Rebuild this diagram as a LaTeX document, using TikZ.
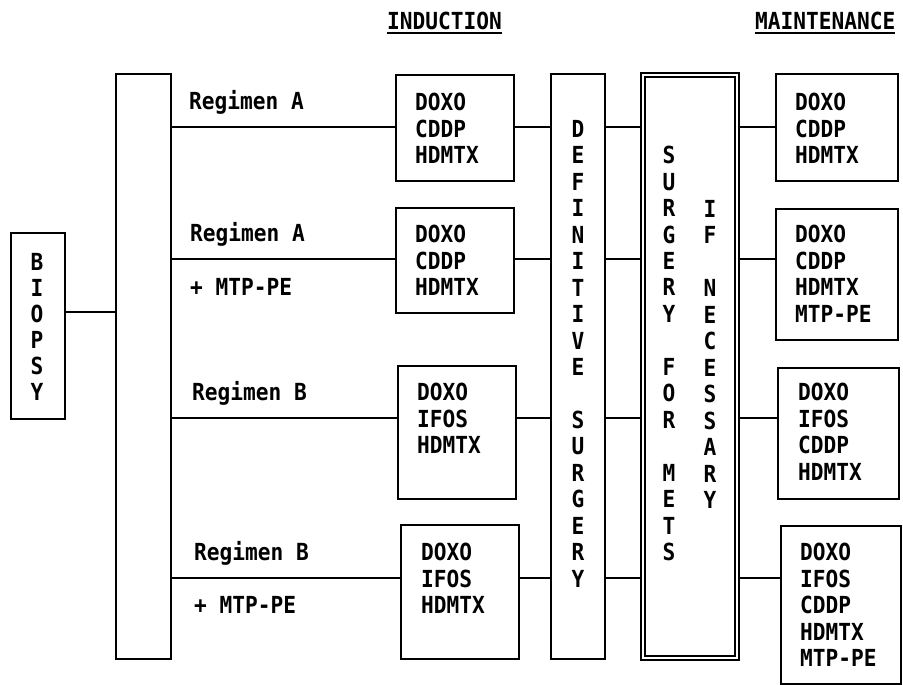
\documentclass[tikz,border=0pt]{standalone}
\usepackage{fontspec}
\setmainfont{DejaVu Sans Mono}[FakeStretch=0.9]
\begin{document}
\begin{tikzpicture}[x=1pt,y=-1pt,
  box/.style={draw, line width=1.6pt, inner sep=0pt, anchor=north west},
  txt/.style={font=\bfseries\fontsize{23.5}{26.5}\selectfont, inner sep=0pt, align=left, anchor=north west},
  vtxt/.style={font=\bfseries\fontsize{23.5}{26.47}\selectfont, inner sep=0pt, align=center, anchor=north},
  lab/.style={font=\bfseries\fontsize{23.5}{26.5}\selectfont, inner sep=0pt, anchor=base west},
  conn/.style={line width=1.6pt}]
\useasboundingbox (0,0) rectangle (903,685);

% titles
\node[lab] (indt) at (387,30) {INDUCTION};
\node[lab] (maint) at (755,30) {MAINTENANCE};
\draw[conn] ([yshift=-3pt]indt.base west) -- ([yshift=-3pt]indt.base east);
\draw[conn] ([yshift=-3pt]maint.base west) -- ([yshift=-3pt]maint.base east);

% biopsy
\node[box, minimum width=54, minimum height=186] (biopsy) at (10,232) {};
\node[vtxt, font=\bfseries\fontsize{23.5}{26}\selectfont] (biot) at (37,253) {B\\I\\O\\P\\S\\Y};

% randomisation bar
\node[box, minimum width=55, minimum height=585] (bar) at (115,73) {};

% row levels
\coordinate (rb) at (0,312);
\coordinate (r1) at (0,127);
\coordinate (r2) at (0,259);
\coordinate (r3) at (0,418);
\coordinate (r4) at (0,578);

% regimen labels
\node[lab] (l1) at (189,110) {Regimen A};
\node[lab] (l2) at (190,241) {Regimen A};
\node[lab] (l2b) at (190,295) {+ MTP-PE};
\node[lab] (l3) at (192,400) {Regimen B};
\node[lab] (l4) at (194,560) {Regimen B};
\node[lab] (l4b) at (194,613) {+ MTP-PE};

% induction boxes
\node[box, minimum width=118, minimum height=106] (i1) at (395,74) {};
\node[box, minimum width=118, minimum height=105] (i2) at (395,207) {};
\node[box, minimum width=118, minimum height=133] (i3) at (397,365) {};
\node[box, minimum width=118, minimum height=134] (i4) at (400,524) {};
\node[txt] (i1t) at (415,93) {DOXO\\CDDP\\HDMTX};
\node[txt] (i2t) at (415,225) {DOXO\\CDDP\\HDMTX};
\node[txt] (i3t) at (417,383) {DOXO\\IFOS\\HDMTX};
\node[txt] (i4t) at (421,543) {DOXO\\IFOS\\HDMTX};

% definitive surgery
\node[box, minimum width=54, minimum height=585] (defs) at (550,73) {};
\node[vtxt] (defst) at (578,120) {D\\E\\F\\I\\N\\I\\T\\I\\V\\E\\~\\S\\U\\R\\G\\E\\R\\Y};

% surgery for mets
\node[box, double, double distance=2.5pt, minimum width=94, minimum height=583] (surg) at (642,74) {};
\node[vtxt] (surgt1) at (669,146) {S\\U\\R\\G\\E\\R\\Y\\~\\F\\O\\R\\~\\M\\E\\T\\S};
\node[vtxt] (surgt2) at (710,200) {I\\F\\~\\N\\E\\C\\E\\S\\S\\A\\R\\Y};

% maintenance boxes
\node[box, minimum width=122, minimum height=107] (m1) at (775,73) {};
\node[box, minimum width=122, minimum height=131] (m2) at (775,208) {};
\node[box, minimum width=121, minimum height=131] (m3) at (777,367) {};
\node[box, minimum width=120, minimum height=158] (m4) at (780,525) {};
\node[txt] (m1t) at (795,93) {DOXO\\CDDP\\HDMTX};
\node[txt] (m2t) at (795,225) {DOXO\\CDDP\\HDMTX\\MTP-PE};
\node[txt] (m3t) at (798,383) {DOXO\\IFOS\\CDDP\\HDMTX};
\node[txt] (m4t) at (800,543) {DOXO\\IFOS\\CDDP\\HDMTX\\MTP-PE};

% connectors
\draw[conn] (biopsy.east |- rb) -- (bar.west |- rb);
\foreach \r in {1,2,3,4}{
  \draw[conn] (bar.east |- r\r) -- (i\r.west |- r\r);
  \draw[conn] (i\r.east |- r\r) -- (defs.west |- r\r);
  \draw[conn] (defs.east |- r\r) -- (surg.west |- r\r);
  \draw[conn] (surg.east |- r\r) -- (m\r.west |- r\r);
}
\end{tikzpicture}
\end{document}
